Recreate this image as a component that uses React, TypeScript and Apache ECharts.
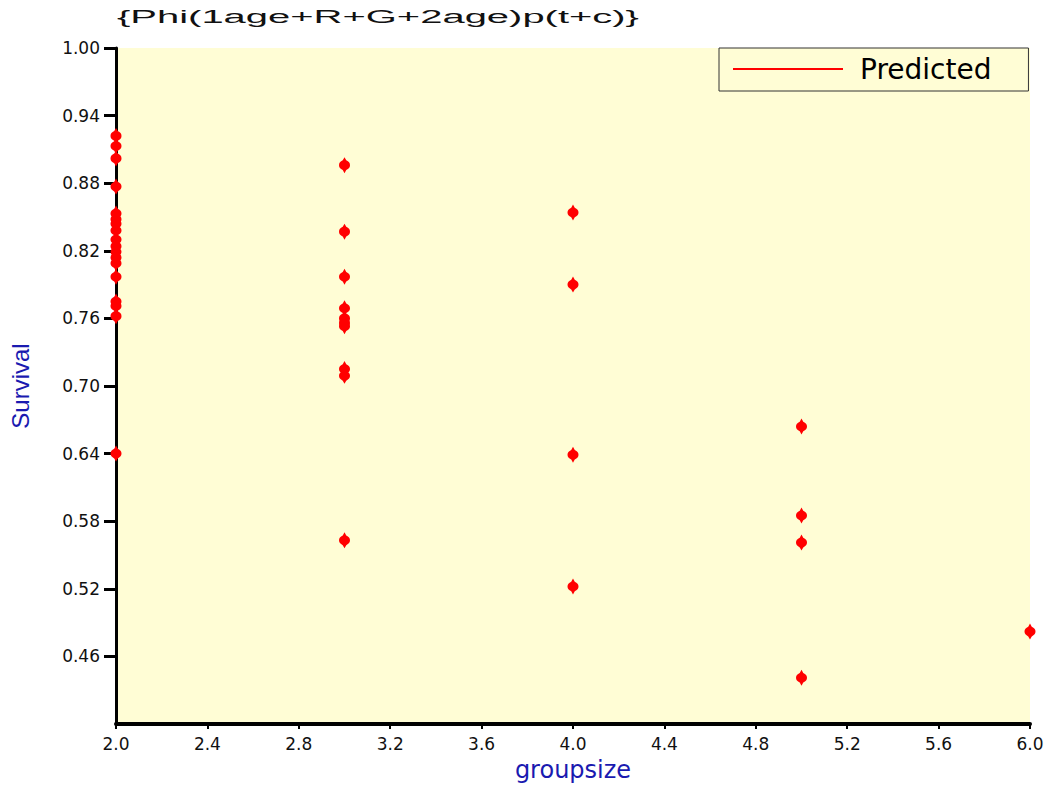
import React, { useEffect, useRef } from "react";
import * as echarts from "echarts";

const titleText = "{Phi(1age+R+G+2age)p(t+c)}";
const seriesName = "Predicted";
const xAxisName = "groupsize";
const yAxisName = "Survival";

const yTickValues = [0.46, 0.52, 0.58, 0.64, 0.7, 0.76, 0.82, 0.88, 0.94, 1.0];

const groupsize2 = [0.922, 0.913, 0.902, 0.877, 0.853, 0.848, 0.844, 0.838, 0.83, 0.824, 0.819, 0.814, 0.809, 0.797, 0.775, 0.771, 0.762, 0.64];
const groupsize3 = [0.896, 0.837, 0.797, 0.769, 0.76, 0.756, 0.753, 0.715, 0.709, 0.563];
const groupsize4 = [0.854, 0.79, 0.639, 0.522];
const groupsize5 = [0.664, 0.585, 0.561, 0.441];
const groupsize6 = [0.482];

const groups: [number, number[]][] = [
  [2, groupsize2],
  [3, groupsize3],
  [4, groupsize4],
  [5, groupsize5],
  [6, groupsize6],
];

const markerPath =
  "path://M5 0 L6.6 3 Q10 4.6 10 7.5 Q10 10.4 6.6 12 L5 15 L3.4 12 Q0 10.4 0 7.5 Q0 4.6 3.4 3 Z";

export default function App() {
  const ref = useRef<HTMLDivElement>(null);

  useEffect(() => {
    document.body.style.margin = "0";
    if (!ref.current) return;
    const chart = echarts.init(ref.current, null, { renderer: "svg" });
    const data: number[][] = [];
    groups.forEach(([gx, ys]) => ys.forEach((y) => data.push([gx, y])));

    chart.setOption({
      animation: false,
      backgroundColor: "#ffffff",
      grid: {
        left: 116,
        right: 23,
        top: 48,
        bottom: 63,
        outerBoundsMode: "none",
        containLabel: false,
        show: true,
        backgroundColor: "#FFFDD5",
        borderWidth: 0,
      },
      graphic: [
        {
          type: "text",
          x: 117,
          y: 8,
          scaleX: 2.22,
          style: {
            text: titleText,
            fontSize: 18,
            fontFamily: "Liberation Sans, Arial, sans-serif",
            fill: "#111111",
            textVerticalAlign: "top",
          },
        },
      ],
      legend: {
        left: 719,
        top: 48,
        selectedMode: false,
        data: [{ name: seriesName, icon: "rect" }],
        itemWidth: 110,
        itemHeight: 2,
        padding: [7, 37, 8, 14],
        backgroundColor: "#FFFDD5",
        borderColor: "#333333",
        borderWidth: 1,
        borderRadius: 0,
        textStyle: {
          fontSize: 28,
          fontFamily: "DejaVu Sans, sans-serif",
          color: "#000000",
          padding: [0, 0, 0, 12],
        },
      },
      xAxis: {
        type: "value",
        min: 2,
        max: 6,
        interval: 0.4,
        name: xAxisName,
        nameLocation: "middle",
        nameGap: 34,
        nameTextStyle: {
          color: "#1A1AB0",
          fontSize: 24,
          fontFamily: "DejaVu Sans, sans-serif",
        },
        axisLine: { show: true, lineStyle: { color: "#000000", width: 4 } },
        axisTick: { show: true, length: 5, lineStyle: { color: "#000000", width: 2 } },
        axisLabel: {
          margin: 11,
          fontSize: 17,
          fontFamily: "DejaVu Sans, sans-serif",
          color: "#111111",
          formatter: (v: number) => v.toFixed(1),
        },
        splitLine: { show: false },
      },
      yAxis: {
        type: "value",
        min: 0.4,
        max: 1.0,
        name: yAxisName,
        nameLocation: "middle",
        nameGap: 84,
        nameTextStyle: {
          color: "#1A1AB0",
          fontSize: 24,
          fontFamily: "Liberation Sans, Arial, sans-serif",
        },
        axisLine: { show: true, lineStyle: { color: "#000000", width: 3 } },
        axisTick: {
          show: true,
          length: 12,
          customValues: yTickValues,
          lineStyle: { color: "#000000", width: 3 },
        },
        axisLabel: {
          margin: 16,
          fontSize: 17,
          fontFamily: "DejaVu Sans, sans-serif",
          color: "#111111",
          customValues: yTickValues,
          formatter: (v: number) => v.toFixed(2),
        },
        splitLine: { show: false },
      },
      series: [
        {
          name: seriesName,
          type: "scatter",
          clip: false,
          symbol: markerPath,
          symbolSize: [11, 16],
          itemStyle: { color: "#FF0000", opacity: 1 },
          data,
          z: 5,
        },
      ],
    });

    return () => chart.dispose();
  }, []);

  return <div ref={ref} style={{ width: 1053, height: 787 }} />;
}
